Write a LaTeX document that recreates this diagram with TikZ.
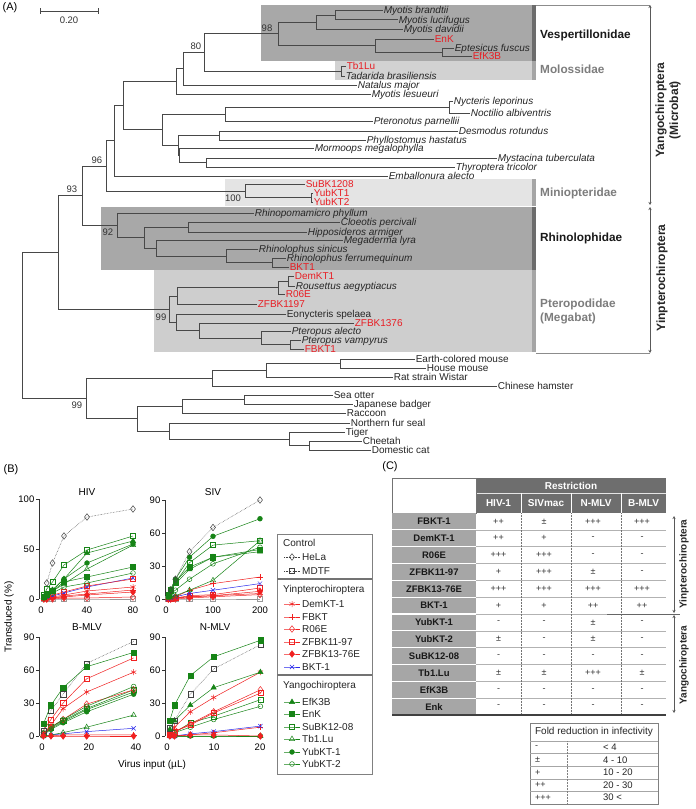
\documentclass[tikz,border=0pt]{standalone}
\usepackage{fontspec}
\setmainfont{Liberation Sans}
\usetikzlibrary{plotmarks,arrows.meta}
\definecolor{tred}{RGB}{232,30,36}
\definecolor{pgreen}{RGB}{22,132,22}
\definecolor{pred}{RGB}{240,32,32}
\definecolor{pblue}{RGB}{40,40,235}
\definecolor{brc}{RGB}{72,72,72}
\definecolor{boxdark}{RGB}{168,168,168}
\definecolor{stripdark}{RGB}{108,108,108}
\definecolor{boxmol}{RGB}{210,210,210}
\definecolor{boxmin}{RGB}{228,228,228}
\definecolor{boxpte}{RGB}{206,206,206}
\definecolor{striplight}{RGB}{165,165,165}
\definecolor{famgray}{RGB}{125,125,125}
\definecolor{ghead}{RGB}{110,110,110}
\definecolor{gname}{RGB}{166,166,166}
\newcommand\nd[5]{\draw[br] (#3,#2) -- (#1,#2) -- (#1,#4) -- (#5,#4);}
\tikzset{
 br/.style={draw=brc, line width=0.55pt},
 lf/.style={anchor=base west, inner sep=0.6pt, yshift=-3.6pt, font=\fontsize{10}{10}\selectfont\itshape, text=black!85},
 lfu/.style={lf, font=\fontsize{10}{10}\selectfont},
 lfr/.style={lf, font=\fontsize{10}{10}\selectfont, text=tred},
 bs/.style={font=\fontsize{9.5}{10}\selectfont, text=black!80, inner sep=0pt},
 fam/.style={anchor=west, inner sep=0pt, font=\fontsize{11.8}{14}\selectfont\bfseries, align=left},
 tick/.style={font=\fontsize{9.5}{10}\selectfont, inner sep=0.5pt},
 ser/.style={line width=0.5pt, mark size=2.6pt},
 sHeLa/.style={ser, black!75, densely dotted, mark=diamond, mark size=3.3pt, mark options={solid, fill=white}},
 sMDTF/.style={ser, black!75, densely dotted, mark=square, mark size=2.6pt, mark options={solid, fill=white}},
 sMDTFz/.style={ser, black!40, line width=0.9pt, mark=square, mark size=2.6pt, mark options={solid, fill=white}},
 sDem/.style={ser, pred, mark=asterisk, mark size=3pt},
 sFB/.style={ser, pred, mark=+, mark size=3pt},
 sR06/.style={ser, pred, mark=diamond, mark size=3.3pt, mark options={fill=white}},
 sZ11/.style={ser, pred, mark=square, mark options={fill=white}},
 sZ13/.style={ser, pred, mark=diamond*, mark size=3.3pt},
 sBKT/.style={ser, pblue, mark=x, mark size=3pt},
 sEf/.style={ser, pgreen, mark=triangle*, mark size=3pt},
 sEn/.style={ser, pgreen, mark=square*},
 sSu/.style={ser, pgreen, mark=square, mark options={fill=white}},
 sTb/.style={ser, pgreen, mark=triangle, mark size=3pt, mark options={fill=white}},
 sY1/.style={ser, pgreen, mark=*, mark size=2.4pt},
 sY2/.style={ser, pgreen, mark=o, mark size=2.4pt, mark options={fill=white}},
 lgt/.style={anchor=west, inner sep=0pt, font=\fontsize{10}{10}\selectfont, text=black!85},
 hdr/.style={font=\fontsize{10}{10}\selectfont\bfseries, text=white, inner sep=0pt},
 cellt/.style={font=\fontsize{9}{10}\selectfont, text=black!80, inner sep=0pt},
 namet/.style={font=\fontsize{9.5}{10}\selectfont\bfseries, text=black!90, inner sep=0pt},
 darr/.style={draw=black!65, line width=0.7pt, {Stealth[length=3pt,width=3pt]}-{Stealth[length=3pt,width=3pt]}},
}
\begin{document}
\begin{tikzpicture}[x=1pt,y=-1pt, font=\fontsize{10}{12}\selectfont]
\useasboundingbox (0,0) rectangle (696,809);
\fill[white] (0,0) rectangle (696,809);
% ================= (A) =================
\node[font=\fontsize{11}{12}\selectfont, inner sep=0pt] (labA) at (10,8) {(A)};
% scale bar
\draw[brc, line width=0.6pt] (40,11) -- (98,11);
\draw[brc, line width=0.6pt] (40,8) -- (40,14);
\draw[brc, line width=0.6pt] (98,8) -- (98,14);
\node[bs] (sc) at (69,20) {0.20};
% family boxes
\fill[boxdark] (261,5) rectangle (536,61);
\fill[stripdark] (532,5) rectangle (536,61);
\fill[boxmol] (335,61) rectangle (536,80);
\fill[striplight] (532,61) rectangle (536,80);
\fill[boxmin] (225,179) rectangle (536,206);
\fill[striplight] (532,179) rectangle (536,206);
\fill[boxdark] (101,207) rectangle (536,270);
\fill[stripdark] (532,207) rectangle (536,270);
\fill[boxpte] (154,270) rectangle (536,352);
\fill[striplight] (532,270) rectangle (536,352);
\draw[black!45, line width=0.6pt] (536,5) -- (650,5);
\draw[black!45, line width=0.6pt] (536,353) -- (650,353);
% tree branches
\nd{335}{10}{383}{19.5}{398}
\nd{316}{15}{335}{29}{403}
\nd{442}{48}{454}{56}{472}
\nd{375}{39}{434}{52}{442}
\nd{278}{22}{316}{45.5}{375}
\nd{341}{66}{346}{76}{345}
\nd{204}{33.75}{278}{71}{341}
\nd{183}{52}{204}{85}{357}
\nd{176}{68.5}{183}{94}{371}
\nd{449}{101}{453}{113}{470}
\nd{225}{107}{449}{121}{373}
\nd{219}{131}{458}{140}{366}
\nd{206}{158}{497}{167}{455}
\nd{179}{148}{314}{162.5}{206}
\nd{178}{135.5}{219}{155}{179}
\nd{162}{114}{225}{145}{178}
\nd{123}{81}{176}{129.5}{162}
\nd{114}{105}{123}{176}{388}
\nd{311}{193}{313}{202}{313}
\nd{245}{184}{305}{197.5}{311}
\nd{106}{140.5}{114}{191}{245}
\nd{188}{222}{340}{232}{307}
\nd{272}{258}{286}{267}{289}
\nd{226}{249}{258}{262.5}{272}
\nd{156}{240}{343}{256}{226}
\nd{144}{227}{188}{248}{156}
\nd{117}{213}{254}{237.5}{144}
\nd{82}{166}{106}{225}{117}
\nd{288}{276}{294}{286}{295}
\nd{278}{281}{288}{294}{285}
\nd{177}{287.5}{278}{304}{257}
\nd{290}{340}{301}{349}{304}
\nd{261}{331}{291}{344.5}{290}
\nd{199}{323}{354}{338}{261}
\nd{176}{314}{286}{330.5}{199}
\nd{169}{296}{177}{322}{176}
\nd{58}{195.5}{82}{309}{169}
\nd{340}{359}{415}{368}{426}
\nd{266}{363.5}{340}{377}{393}
\nd{212}{370}{266}{386}{497}
\nd{244}{395}{333}{404}{353}
\nd{182}{399.5}{244}{413}{346}
\nd{309}{441}{362}{450}{371}
\nd{289}{432}{345}{445.5}{309}
\nd{169}{423}{350}{439}{289}
\nd{137}{406}{182}{431}{169}
\nd{86}{378}{212}{418.5}{137}
\nd{22}{252}{58}{398}{86}
% bootstrap values
\node[bs] (b98) at (267,28) {98};
\node[bs] (b80) at (196,46) {80};
\node[bs] (b96) at (97,160) {96};
\node[bs] (b100) at (233,198) {100};
\node[bs] (b93) at (72,189) {93};
\node[bs] (b92) at (108,232) {92};
\node[bs] (b99a) at (161,317) {99};
\node[bs] (b99b) at (77,405) {99};
% leaf labels
\node[lf] (t1) at (383,10) {Myotis brandtii};
\node[lf] (t2) at (398,19.5) {Myotis lucifugus};
\node[lf] (t3) at (403,29) {Myotis davidii};
\node[lfr] (t4) at (434,39) {EnK};
\node[lf] (t5) at (454,48) {Eptesicus fuscus};
\node[lfr] (t6) at (472,56) {EfK3B};
\node[lfr] (t7) at (346,66) {Tb1Lu};
\node[lf] (t8) at (345,76) {Tadarida brasiliensis};
\node[lf] (t9) at (357,85) {Natalus major};
\node[lf] (t10) at (371,94) {Myotis lesueuri};
\node[lf] (t11) at (453,101) {Nycteris leporinus};
\node[lf] (t12) at (470,113) {Noctilio albiventris};
\node[lf] (t13) at (373,121) {Pteronotus parnellii};
\node[lf] (t14) at (458,131) {Desmodus rotundus};
\node[lf] (t15) at (366,140) {Phyllostomus hastatus};
\node[lf] (t16) at (314,148) {Mormoops megalophylla};
\node[lf] (t17) at (497,158) {Mystacina tuberculata};
\node[lf] (t18) at (455,167) {Thyroptera tricolor};
\node[lf] (t19) at (388,176) {Emballonura alecto};
\node[lfr] (t20) at (305,184) {SuBK1208};
\node[lfr] (t21) at (313,193) {YubKT1};
\node[lfr] (t22) at (313,202) {YubKT2};
\node[lf] (t23) at (254,213) {Rhinopomamicro phyllum};
\node[lf] (t24) at (340,222) {Cloeotis percivali};
\node[lf] (t25) at (307,232) {Hipposideros armiger};
\node[lf] (t26) at (343,240) {Megaderma lyra};
\node[lf] (t27) at (258,249) {Rhinolophus sinicus};
\node[lf] (t28) at (286,258) {Rhinolophus ferrumequinum};
\node[lfr] (t29) at (289,267) {BKT1};
\node[lfr] (t30) at (294,276) {DemKT1};
\node[lf] (t31) at (295,286) {Rousettus aegyptiacus};
\node[lfr] (t32) at (285,294) {R06E};
\node[lfr] (t33) at (257,304) {ZFBK1197};
\node[lfu] (t34) at (286,314) {Eonycteris spelaea};
\node[lfr] (t35) at (354,323) {ZFBK1376};
\node[lf] (t36) at (291,331) {Pteropus alecto};
\node[lf] (t37) at (301,340) {Pteropus vampyrus};
\node[lfr] (t38) at (304,349) {FBKT1};
\node[lfu] (t39) at (415,359) {Earth-colored mouse};
\node[lfu] (t40) at (426,368) {House mouse};
\node[lfu] (t41) at (393,377) {Rat strain Wistar};
\node[lfu] (t42) at (497,386) {Chinese hamster};
\node[lfu] (t43) at (333,395) {Sea otter};
\node[lfu] (t44) at (353,404) {Japanese badger};
\node[lfu] (t45) at (346,413) {Raccoon};
\node[lfu] (t46) at (350,423) {Northern fur seal};
\node[lfu] (t47) at (345,432) {Tiger};
\node[lfu] (t48) at (362,441) {Cheetah};
\node[lfu] (t49) at (371,450) {Domestic cat};
% family labels
\node[fam, text=black!90] (fV) at (540,35) {Vespertillonidae};
\node[fam, text=famgray] (fMo) at (540,69) {Molossidae};
\node[fam, text=famgray] (fMi) at (540,193) {Miniopteridae};
\node[fam, text=black!90] (fR) at (540,238) {Rhinolophidae};
\node[fam, text=famgray] (fP) at (540,311) {Pteropodidae\\(Megabat)};
% suborder arrows
\coordinate (ya1) at (650,5);
\coordinate (ya2) at (650,205);
\coordinate (yb1) at (650,207);
\coordinate (yb2) at (650,353);
\draw[darr] (ya1) -- (ya2);
\draw[darr] (yb1) -- (yb2);
\node[rotate=90, font=\fontsize{12}{14}\selectfont\bfseries, align=center, text=black!85] (subY) at (668,110) {Yangochiroptera\\(Microbat)};
\node[rotate=90, font=\fontsize{12}{14}\selectfont\bfseries, text=black!85] (subI) at (662,278) {Yinpterochiroptera};
% ================= (B) =================
\node[font=\fontsize{11}{12}\selectfont, inner sep=0pt] (labB) at (11,470) {(B)};
% axes
\draw[black!80, line width=0.5pt] (39,499) -- (39,599);
\foreach \v/\t in {599/0,549/50,499/100} {\draw[black!80, line width=0.5pt] (36,\v) -- (39,\v); \node[tick, anchor=east] at (35,\v) {\t};}
\draw[black!80, line width=0.5pt] (165,500) -- (165,599);
\foreach \v/\t in {599/0,566/30,533/60,500/90} {\draw[black!80, line width=0.5pt] (162,\v) -- (165,\v); \node[tick, anchor=east] at (161,\v) {\t};}
\draw[black!80, line width=0.5pt] (39,637) -- (39,736);
\foreach \v/\t in {736/0,703/30,670/60,637/90} {\draw[black!80, line width=0.5pt] (36,\v) -- (39,\v); \node[tick, anchor=east] at (35,\v) {\t};}
\draw[black!80, line width=0.5pt] (165,637) -- (165,736);
\foreach \v/\t in {736/0,703/30,670/60,637/90} {\draw[black!80, line width=0.5pt] (162,\v) -- (165,\v); \node[tick, anchor=east] at (161,\v) {\t};}
\foreach \x/\t in {41/0,87/40,133/80} \node[tick] at (\x,610) {\t};
\foreach \x/\t in {166/0,213/100,260/200} \node[tick] at (\x,610) {\t};
\foreach \x/\t in {42/0,89/20,136/40} \node[tick] at (\x,747) {\t};
\foreach \x/\t in {167/0,214/10,260/20} \node[tick] at (\x,747) {\t};
\node (tHIV) at (87,492) {HIV};
\node (tSIV) at (213,492) {SIV};
\node (tBM) at (87,627) {B-MLV};
\node (tNM) at (215,627) {N-MLV};
\node[rotate=90] (ylab) at (9,617) {Transduced (\%)};
\node (xlab) at (152,765) {Virus input (µL)};
% HIV data
\begin{scope}[shift={(41pt,-599pt)}, x=1.15pt, y=1pt]
\draw[sMDTFz] plot coordinates {(2.5,0) (5,0) (10,0) (20,0) (40,0) (80,0)};
\draw[sR06] plot coordinates {(2.5,0) (5,0) (10,0) (20,1) (40,1) (80,2)};
\draw[sZ13] plot coordinates {(2.5,0) (5,0) (10,1) (20,2) (40,4) (80,7)};
\draw[sFB] plot coordinates {(2.5,0) (5,1) (10,1) (20,3) (40,5) (80,9)};
\draw[sDem] plot coordinates {(2.5,0) (5,1) (10,2) (20,4) (40,8) (80,12)};
\draw[sBKT] plot coordinates {(2.5,1) (5,2) (10,3) (20,6) (40,12) (80,21)};
\draw[sZ11] plot coordinates {(2.5,1) (5,2) (10,4) (20,7) (40,13) (80,20)};
\draw[sY2] plot coordinates {(2.5,1) (5,3) (10,6) (20,12) (40,16) (80,26)};
\draw[sEn] plot coordinates {(2.5,2) (5,4) (10,8) (20,17) (40,22) (80,32)};
\draw[sTb] plot coordinates {(2.5,2) (5,4) (10,8) (20,15) (40,30) (80,54)};
\draw[sY1] plot coordinates {(2.5,2) (5,5) (10,9) (20,20) (40,36) (80,55)};
\draw[sEf] plot coordinates {(2.5,2) (5,5) (10,9) (20,20) (40,46) (80,58)};
\draw[sSu] plot coordinates {(2.5,4) (5,10) (10,17) (20,34) (40,49) (80,63)};
\draw[sHeLa] plot coordinates {(5,16) (10,36) (20,63) (40,82) (80,90)};
\end{scope}
% SIV data
\begin{scope}[shift={(166pt,-599pt)}, x=0.47pt, y=1.1pt]
\draw[sMDTFz] plot coordinates {(5,0) (10,0) (20,0) (50,0) (100,0) (200,0)};
\draw[sR06] plot coordinates {(5,0) (10,0) (20,0) (50,1) (100,2) (200,4)};
\draw[sDem] plot coordinates {(5,0) (10,0) (20,1) (50,2) (100,3) (200,5)};
\draw[sZ13] plot coordinates {(5,0) (10,0) (20,1) (50,2) (100,3) (200,7)};
\draw[sZ11] plot coordinates {(5,0) (10,0) (20,1) (50,3) (100,4) (200,10)};
\draw[sBKT] plot coordinates {(5,0) (10,1) (20,2) (50,5) (100,8) (200,14)};
\draw[sFB] plot coordinates {(5,0) (10,1) (20,2) (50,8) (100,14) (200,20)};
\draw[sTb] plot coordinates {(5,1) (10,2) (20,3) (50,8) (100,17) (200,53)};
\draw[sY2] plot coordinates {(5,2) (10,5) (20,8) (50,18) (100,32) (200,47)};
\draw[sEf] plot coordinates {(5,3) (10,7) (20,14) (50,27) (100,38) (200,43)};
\draw[sEn] plot coordinates {(5,3) (10,8) (20,16) (50,29) (100,38) (200,45)};
\draw[sSu] plot coordinates {(5,4) (10,8) (20,15) (50,33) (100,49) (200,53)};
\draw[sY1] plot coordinates {(5,4) (10,9) (20,18) (50,38) (100,57) (200,73)};
\draw[sHeLa] plot coordinates {(10,8) (20,18) (50,43) (100,65) (200,90)};
\end{scope}
% B-MLV data
\begin{scope}[shift={(42pt,-736pt)}, x=2.35pt, y=1.1pt]
\draw[sFB] plot coordinates {(0.6,0) (3.8,0) (9,1) (19,1) (39,1)};
\draw[sBKT] plot coordinates {(0.6,0) (3.8,1) (9,2) (19,4) (39,7)};
\draw[sTb] plot coordinates {(0.6,0) (3.8,1) (9,3) (19,8) (39,19)};
\draw[sY1] plot coordinates {(0.6,1) (3.8,6) (9,12) (19,22) (39,38)};
\draw[sEf] plot coordinates {(0.6,1) (3.8,7) (9,13) (19,24) (39,40)};
\draw[sSu] plot coordinates {(0.6,2) (3.8,8) (9,14) (19,25) (39,42)};
\draw[sR06] plot coordinates {(0.6,1) (3.8,8) (9,15) (19,29) (39,42)};
\draw[sY2] plot coordinates {(0.6,3) (3.8,8) (9,15) (19,27) (39,45)};
\draw[sDem] plot coordinates {(0.6,2) (3.8,10) (9,25) (19,40) (39,58)};
\draw[sZ11] plot coordinates {(0.6,5) (3.8,15) (9,30) (19,52) (39,71)};
\draw[sMDTF] plot coordinates {(0.6,5) (3.8,23) (9,38) (19,66) (39,86)};
\draw[sEn] plot coordinates {(0.6,11) (3.8,28) (9,44) (19,63) (39,76)};
\draw[sZ13] plot coordinates {(0.6,0) (3.8,0) (9,0) (19,0) (39,0)};
\end{scope}
% N-MLV data
\begin{scope}[shift={(167pt,-736pt)}, x=4.67pt, y=1.1pt]
\draw[sTb] plot coordinates {(0.6,0) (1.6,0) (5,0) (10,0) (20,0)};
\draw[sY1] plot coordinates {(0.6,0) (1.6,0) (5,0) (10,0) (20,0)};
\draw[sFB] plot coordinates {(0.6,0) (1.6,0) (5,1) (10,3) (20,8)};
\draw[sBKT] plot coordinates {(0.6,0) (1.6,0) (5,2) (10,4) (20,9)};
\draw[sY2] plot coordinates {(0.6,2) (1.6,3) (5,8) (10,15) (20,27)};
\draw[sSu] plot coordinates {(0.6,2) (1.6,3) (5,12) (10,18) (20,33)};
\draw[sZ11] plot coordinates {(0.6,1) (1.6,4) (5,10) (10,21) (20,39)};
\draw[sR06] plot coordinates {(0.6,1) (1.6,4) (5,11) (10,22) (20,42)};
\draw[sDem] plot coordinates {(0.6,3) (1.6,8) (5,22) (10,35) (20,58)};
\draw[sEf] plot coordinates {(0.6,6) (1.6,14) (5,28) (10,44) (20,58)};
\draw[sMDTF] plot coordinates {(0.6,7) (1.6,14) (5,38) (10,61) (20,83)};
\draw[sEn] plot coordinates {(0.6,14) (1.6,28) (5,55) (10,72) (20,87)};
\draw[sZ13] plot coordinates {(0.6,0) (1.6,0) (5,1) (10,1) (20,0)};
\end{scope}
% legend
\draw[black!50, line width=0.7pt] (277,534) rectangle (372,774);
\draw[black!55, line width=1.2pt] (277,579) -- (372,579);
\draw[black!55, line width=1.2pt] (277,675) -- (372,675);
\node[lgt] (lgC) at (283,543) {Control};
\node[lgt] (lgI) at (283,590) {Yinpterochiroptera};
\node[lgt] (lgY) at (283,686) {Yangochiroptera};
\foreach \st/\yy/\tx in {sHeLa/557/HeLa, sMDTF/571/MDTF, sDem/604/DemKT-1, sFB/617/FBKT, sR06/629/R06E, sZ11/642/ZFBK11-97, sZ13/654/ZFBK13-76E, sBKT/667/BKT-1, sEf/702/EfK3B, sEn/714/EnK, sSu/727/SuBK12-08, sTb/739/Tb1.Lu, sY1/752/YubKT-1, sY2/764/YubKT-2} {
  \draw[\st, mark indices={2}] plot coordinates {(284,\yy) (292,\yy) (300,\yy)};
  \node[lgt] at (302,\yy) {\tx};
}
% ================= (C) =================
\node[font=\fontsize{11}{12}\selectfont, inner sep=0pt] (labC) at (390,467) {(C)};
\fill[ghead] (476,478) rectangle (666,513);
\draw[white!80!gray, line width=0.6pt] (476,493) -- (666,493);
\foreach \x in {521,571,621} \draw[white, line width=1pt] (\x,493) -- (\x,513);
\node[hdr] (hR) at (571,486) {Restriction};
\node[hdr] (h1) at (498.5,503.5) {HIV-1};
\node[hdr] (h2) at (546,503.5) {SIVmac};
\node[hdr] (h3) at (596,503.5) {N-MLV};
\node[hdr] (h4) at (643.5,503.5) {B-MLV};
\draw[black!55, line width=0.6pt] (392,478) rectangle (476,513);
\fill[gname] (392,513) rectangle (476,715);
\foreach \i in {1,...,11} {
  \pgfmathsetmacro\yy{513+16.833*\i}
  \draw[white, line width=1.2pt] (392,\yy) -- (476,\yy);
  \draw[black!30, line width=0.5pt] (476,\yy) -- (666,\yy);
}
\foreach \x in {521,571,621} \draw[black!55, densely dotted, line width=0.5pt] (\x,513) -- (\x,715);
\draw[black!75, line width=1.3pt] (392,715) -- (666,715);
\foreach \nm/\a/\b/\c/\d [count=\i] in {FBKT-1/++/±/+++/+++, DemKT-1/++/+/-/-, R06E/+++/+++/-/-, ZFBK11-97/+/+++/±/-, ZFBK13-76E/+++/+++/+++/+++, BKT-1/+/+/++/++, YubKT-1/-/-/±/-, YubKT-2/±/-/±/-, SuBK12-08/-/-/-/-, Tb1.Lu/±/±/+++/±, EfK3B/-/-/-/-, Enk/-/-/-/-} {
  \pgfmathsetmacro\yy{513+16.833*(\i-0.5)}
  \node[namet] at (434,\yy) {\nm};
  \node[cellt] at (498.5,\yy) {\a};
  \node[cellt] at (544,\yy) {\b};
  \node[cellt] at (593,\yy) {\c};
  \node[cellt] at (642,\yy) {\d};
}
\draw[black!60, line width=0.6pt] (607,614) -- (680,614);
\coordinate (ca1) at (674,516);
\coordinate (ca2) at (674,613);
\coordinate (cb1) at (674,615);
\coordinate (cb2) at (674,713);
\draw[darr] (ca1) -- (ca2);
\draw[darr] (cb1) -- (cb2);
\node[rotate=90, font=\fontsize{10}{12}\selectfont\bfseries, text=black!85] (cI) at (684,564) {Yinpterochiroptera};
\node[rotate=90, font=\fontsize{10}{12}\selectfont\bfseries, text=black!85] (cY) at (684,665) {Yangochiroptera};
% fold legend
\draw[black!50, line width=0.6pt] (530,723) rectangle (658,804);
\node[lgt, anchor=center] (fl) at (594,732) {Fold reduction in infectivity};
\foreach \i in {0,...,4} {
  \pgfmathsetmacro\yy{741+12.6*\i}
  \draw[black!35, line width=0.5pt] (530,\yy) -- (658,\yy);
}
\draw[black!50, densely dotted, line width=0.5pt] (567,741) -- (567,804);
\foreach \s/\r [count=\i] in {-/{< 4}, ±/{4 - 10}, +/{10 - 20}, ++/{20 - 30}, +++/{30 <}} {
  \pgfmathsetmacro\yy{741+12.6*(\i-0.5)}
  \node[cellt, anchor=west] at (535,\yy) {\s};
  \node[lgt, font=\fontsize{9.5}{10}\selectfont] at (603,\yy) {\r};
}
\end{tikzpicture}
\end{document}
